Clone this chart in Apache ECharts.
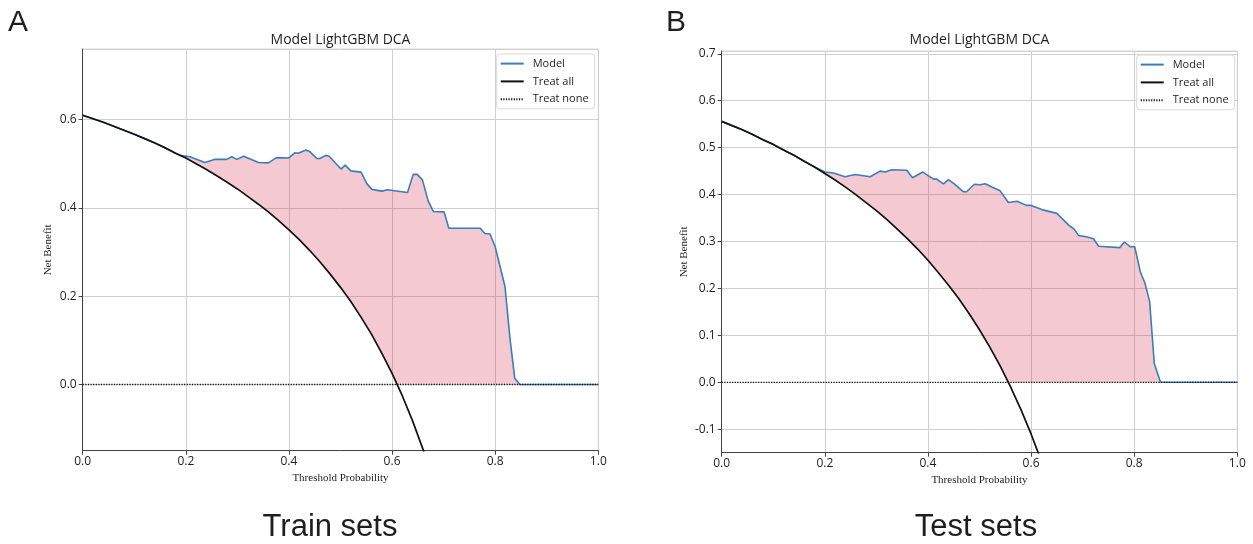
<!DOCTYPE html>
<html><head><meta charset="utf-8">
<script src="https://cdn.jsdelivr.net/npm/echarts@6/dist/echarts.min.js"></script>
<style>html,body{margin:0;padding:0;background:#fff}#c{width:1253px;height:544px}</style>
</head><body><div id="c"></div>
<script>
// ---------- data ----------
const xTickValues = [0, 0.2, 0.4, 0.6, 0.8, 1.0];
const legendNames = ['Model', 'Treat all', 'Treat none'];
const panelTitles = ['Model LightGBM DCA', 'Model LightGBM DCA'];
const panelLetters = ['A', 'B'];
const panelCaptions = ['Train sets', 'Test sets'];

// threshold probabilities for the "Treat all" curves
const treatAllX = [0,0.02,0.04,0.06,0.08,0.10,0.12,0.14,0.16,0.18,0.20,0.22,0.24,0.26,0.28,0.30,0.32,0.34,0.36,0.38,0.40,0.42,0.44,0.46,0.48,0.50,0.52,0.54,0.56,0.58,0.60,0.62,0.64,0.66,0.68];
const treatAllTrain = [0.610,0.602,0.594,0.585,0.576,0.567,0.557,0.547,0.536,0.524,0.513,0.500,0.487,0.473,0.458,0.443,0.426,0.409,0.391,0.371,0.350,0.328,0.304,0.278,0.250,0.220,0.188,0.152,0.114,0.071,0.025,-0.026,-0.083,-0.147,-0.219];
const treatAllTest = [0.556,0.547,0.538,0.528,0.517,0.507,0.495,0.484,0.471,0.459,0.445,0.431,0.416,0.400,0.383,0.366,0.347,0.327,0.306,0.284,0.260,0.234,0.207,0.178,0.146,0.112,0.075,0.035,-0.009,-0.057,-0.110,-0.168,-0.233,-0.306,-0.388];

// model net benefit (train)
const modelTrainX = [0,0.02,0.04,0.06,0.08,0.10,0.12,0.14,0.16,0.18,
  0.189,0.208,0.237,0.257,0.279,0.289,0.299,0.312,0.341,0.360,
  0.376,0.399,0.412,0.418,0.433,0.441,0.454,0.460,0.471,0.478,
  0.501,0.509,0.520,0.540,0.551,0.561,0.580,0.591,0.630,0.641,
  0.649,0.659,0.670,0.680,0.701,0.710,0.771,0.780,0.790,0.800,
  0.819,0.829,0.838,0.848,1.0];
const modelTrainY = [0.610,0.602,0.594,0.585,0.576,0.567,0.557,0.547,0.536,0.524,
  0.519,0.516,0.503,0.510,0.510,0.516,0.510,0.517,0.503,0.502,
  0.514,0.513,0.525,0.524,0.531,0.527,0.512,0.512,0.519,0.517,
  0.488,0.497,0.484,0.481,0.455,0.442,0.438,0.441,0.435,0.476,
  0.476,0.463,0.416,0.392,0.391,0.354,0.354,0.342,0.341,0.312,
  0.222,0.101,0.014,0.0,0.0];

// model net benefit (test)
const modelTestX = [0,0.02,0.04,0.06,0.08,0.10,0.12,0.14,0.16,0.18,
  0.200,0.217,0.239,0.259,0.288,0.307,0.317,0.330,0.359,0.370,
  0.390,0.411,0.417,0.430,0.440,0.451,0.469,0.475,0.490,0.501,
  0.511,0.524,0.540,0.556,0.573,0.591,0.600,0.621,0.650,0.673,
  0.684,0.692,0.707,0.721,0.731,0.772,0.781,0.792,0.801,0.812,
  0.821,0.830,0.839,0.851,1.0];
const modelTestY = [0.556,0.547,0.538,0.528,0.517,0.507,0.495,0.484,0.471,0.459,
  0.448,0.446,0.438,0.443,0.438,0.450,0.448,0.453,0.452,0.436,
  0.448,0.433,0.433,0.423,0.432,0.423,0.406,0.406,0.422,0.421,
  0.423,0.416,0.408,0.383,0.386,0.377,0.377,0.368,0.360,0.335,
  0.326,0.313,0.310,0.306,0.290,0.287,0.299,0.289,0.289,0.235,
  0.211,0.172,0.040,0.0,0.0];

const treatNoneX = [0, 1];
const treatNoneY = [0, 0];

// y-axis ranges (matplotlib-style limits)
const yRangeTrain = [-0.15, 0.76];
const yRangeTest = [-0.15, 0.706];

// ---------- helpers ----------
const pairs = (xs, ys) => xs.map((x, i) => [x, ys[i]]);
function interp(xs, ys, x) {
  if (x <= xs[0]) return ys[0];
  for (let i = 1; i < xs.length; i++) {
    if (x <= xs[i]) { const t = (x - xs[i-1]) / (xs[i] - xs[i-1]); return ys[i-1] + t * (ys[i] - ys[i-1]); }
  }
  return ys[ys.length - 1];
}
function fillPolygon(mx, my, tx, ty) {
  const base = x => x > tx[tx.length-1] ? 0 : Math.max(interp(tx, ty, x), 0);
  let xs = mx.concat(tx.filter(v => v <= 1));
  for (let i = 1; i < ty.length; i++) {
    if (ty[i-1] > 0 && ty[i] <= 0) xs.push(tx[i-1] + ty[i-1] / (ty[i-1] - ty[i]) * (tx[i] - tx[i-1]));
  }
  xs = Array.from(new Set(xs.map(v => +v.toFixed(6)))).sort((a, b) => a - b);
  const upper = xs.map(x => [x, Math.max(interp(mx, my, x), base(x))]);
  const lower = xs.map(x => [x, base(x)]).reverse();
  return upper.concat(lower);
}
const polyTrain = fillPolygon(modelTrainX, modelTrainY, treatAllX, treatAllTrain);
const polyTest = fillPolygon(modelTestX, modelTestY, treatAllX, treatAllTest);

const FONT = 'Open Sans';
const TXT = '#1e1e1e';
const AX = '#454545';
const GRIDC = '#cfcfcf';

function xAxisCfg(gi) {
  return {
    gridIndex: gi, type: 'value', min: 0, max: 1, interval: 0.2,
    name: 'Threshold Probability', nameLocation: 'middle', nameGap: 20,
    nameTextStyle: { fontFamily: 'Liberation Serif', fontSize: 11, color: TXT },
    axisLine: { show: true, onZero: false, lineStyle: { color: AX, width: 1 } },
    axisTick: { show: true, length: 4, lineStyle: { color: AX } },
    axisLabel: { formatter: v => v.toFixed(1), fontFamily: FONT, fontSize: 12, color: TXT, margin: 5 },
    splitLine: { show: true, lineStyle: { color: GRIDC, width: 1 } }
  };
}
function yAxisCfg(gi, range, splitNumber, gap) {
  return {
    gridIndex: gi, type: 'value', min: range[0], max: range[1], splitNumber: splitNumber,
    name: 'Net Benefit', nameLocation: 'middle', nameGap: gap,
    nameTextStyle: { fontFamily: 'Liberation Serif', fontSize: 11, color: TXT },
    axisLine: { show: true, onZero: false, lineStyle: { color: AX, width: 1 } },
    axisTick: { show: true, length: 4, lineStyle: { color: AX } },
    axisLabel: { formatter: v => v.toFixed(1), fontFamily: FONT, fontSize: 12, color: TXT, margin: 6,
                 showMinLabel: false, showMaxLabel: false },
    splitLine: { show: true, lineStyle: { color: GRIDC, width: 1 } }
  };
}
function panelSeries(idx, poly, mx, my, ty) {
  return [
    { type: 'custom', xAxisIndex: idx, yAxisIndex: idx, silent: true, z: 1, data: [[0, 0]],
      renderItem: (p, api) => ({ type: 'polygon', shape: { points: poly.map(pt => api.coord(pt)) },
        style: { fill: 'rgba(212,40,75,0.25)' } }) },
    { name: legendNames[0], type: 'line', xAxisIndex: idx, yAxisIndex: idx, data: pairs(mx, my),
      symbol: 'none', z: 3, lineStyle: { color: '#3b7db8', width: 1.6 }, itemStyle: { color: '#3b7db8' } },
    { name: legendNames[1], type: 'line', xAxisIndex: idx, yAxisIndex: idx, data: pairs(treatAllX, ty),
      symbol: 'none', z: 4, clip: true, lineStyle: { color: '#111', width: 1.7 }, itemStyle: { color: '#111' } },
    { name: legendNames[2], type: 'line', xAxisIndex: idx, yAxisIndex: idx, data: pairs(treatNoneX, treatNoneY),
      symbol: 'none', z: 5, lineStyle: { color: '#111', width: 1.3, type: [1.2, 1.4] }, itemStyle: { color: '#111' } }
  ];
}
function legendCfg(left, top) {
  return {
    left: left, top: top, orient: 'vertical', data: legendNames, selectedMode: false,
    itemWidth: 23, itemHeight: 14, itemGap: 6.6, padding: [4, 6, 4, 3],
    itemStyle: { opacity: 0 },
    backgroundColor: '#fff', borderColor: '#d9d9d9', borderWidth: 1, borderRadius: 3,
    textStyle: { fontFamily: FONT, fontSize: 11, color: TXT, padding: [0, 0, 0, 4] }
  };
}
function text(t, x, y, font) {
  return { type: 'text', x: x, y: y, style: { text: t, font: font, fill: TXT,
    textAlign: 'center', textVerticalAlign: 'middle', align: 'center', verticalAlign: 'middle' } };
}

const chart = echarts.init(document.getElementById('c'), null, { renderer: 'canvas' });
chart.setOption({
  animation: false,
  backgroundColor: '#fff',
  grid: [
    { left: 82.7, top: 49, width: 515.6, height: 401.7, show: true, borderColor: '#dadada', borderWidth: 1 },
    { left: 721.7, top: 51, width: 515.6, height: 401.7, show: true, borderColor: '#dadada', borderWidth: 1 }
  ],
  xAxis: [xAxisCfg(0), xAxisCfg(1)],
  yAxis: [yAxisCfg(0, yRangeTrain, 5, 29), yAxisCfg(1, yRangeTest, 8, 32)],
  legend: [legendCfg(496.7, 54), legendCfg(1136.7, 55)],
  series: panelSeries(0, polyTrain, modelTrainX, modelTrainY, treatAllTrain)
    .concat(panelSeries(1, polyTest, modelTestX, modelTestY, treatAllTest)),
  graphic: [
    text(panelLetters[0], 18, 23, '30px "Liberation Sans"'),
    text(panelLetters[1], 676, 23, '30px "Liberation Sans"'),
    text(panelTitles[0], 340.5, 40, '14px "Open Sans"'),
    text(panelTitles[1], 979.5, 40, '14px "Open Sans"'),
    text(panelCaptions[0], 330, 527, '31px "Liberation Sans"'),
    text(panelCaptions[1], 976, 527, '31px "Liberation Sans"')
  ]
});
</script>
</body></html>
